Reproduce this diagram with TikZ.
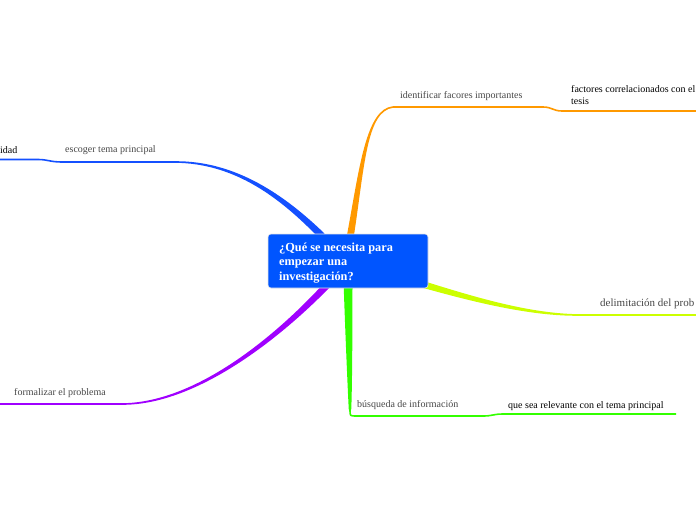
\documentclass[tikz,border=0pt]{standalone}
\usepackage{fontspec}
\setmainfont{Liberation Serif}
\usetikzlibrary{calc}
\definecolor{cblue}{RGB}{20,80,255}
\definecolor{corange}{RGB}{255,153,0}
\definecolor{clime}{RGB}{204,255,0}
\definecolor{cgreen}{RGB}{51,255,0}
\definecolor{cpurple}{RGB}{160,0,255}
\definecolor{cbox}{RGB}{0,85,255}
\definecolor{lblgray}{RGB}{70,70,70}
\tikzset{
  thinline/.style={line width=1.6pt},
  lbl/.style={anchor=west, inner sep=0pt, text=lblgray, font=\fontsize{10}{12}\selectfont},
  sublbl/.style={anchor=west, inner sep=0pt, text=black, font=\fontsize{10}{11.5}\selectfont, align=left},
  rootbox/.style={draw=white!80!gray, line width=0.6pt, fill=cbox, rounded corners=3pt,
    minimum width=160pt, minimum height=54pt, inner sep=0pt}
}
\begin{document}
\begin{tikzpicture}[x=1pt,y=-1pt]
\useasboundingbox (0,0) rectangle (696,520);
\clip (0,0) rectangle (696,520);
% coordinates
\coordinate (bE) at (175,162);
\coordinate (bL) at (0,159.5);
\coordinate (oE) at (393,107);
\coordinate (oR) at (696,111);
\coordinate (gE) at (350,410);
\coordinate (gR) at (676,414);
\coordinate (pE) at (122,404);
\coordinate (pL) at (0,404);
\coordinate (yE) at (580,315);
\coordinate (yR) at (696,315);
% blue branch
\fill[cblue] (324.5,233.5) .. controls (283.8,194.2) and (235,160.8) .. (175,161.2)
  -- (175,162.8) .. controls (235,163.2) and (280.2,197.8) .. (319.5,238.5) -- cycle;
\draw[cblue,thinline] (bE) -- (62,162) .. controls (50,162) and (48,159.5) .. (38,159.5) -- (bL);
% orange branch
\fill[corange] (353.45,238.59) .. controls (364.46,168.42) and (366.13,111.19) .. (393,107.8)
  -- (393,106.2) .. controls (365.87,108.81) and (359.54,167.58) .. (346.55,237.41) -- cycle;
\draw[corange,thinline] (oE) -- (543,107) .. controls (552,107) and (553,111) .. (562,111) -- (oR);
% green branch
\fill[cgreen] (352.5,280) .. controls (352.5,340) and (352,395) .. (351.2,410)
  -- (348.8,410) .. controls (348,395) and (345.5,340) .. (343.5,280) -- cycle;
\draw[cgreen,thinline] (gE) .. controls (350,416) .. (356,416) -- (483,416)
  .. controls (493,416) and (493,414) .. (503,414) -- (gR);
% purple branch
\fill[cpurple] (330.56,286.39) .. controls (286.83,331.71) and (200,405.2) .. (122,404.8)
  -- (122,403.2) .. controls (200,402.8) and (283.17,328.29) .. (325.44,281.61) -- cycle;
\draw[cpurple,thinline] (pE) -- (pL);
% lime branch
\fill[clime] (414,285.35) .. controls (474.28,302.4) and (530,316.2) .. (580,315.8)
  -- (580,314.2) .. controls (530,313.8) and (475.72,297.6) .. (416,278.65) -- cycle;
\draw[clime,thinline] (yE) -- (yR);
% root
\node[rootbox] (root) at (348,261) {};
\node[anchor=north west, inner sep=0pt, text=white, align=left,
  font=\fontsize{12.3}{14.6}\selectfont\bfseries] (roottext) at (279,242.5)
  {¿Qué se necesita para\\empezar una\\investigación?};
% labels
\node[lbl] (l1) at (65,150.5) {escoger tema principal};
\node[sublbl] (s1) at (0,150) {idad};
\node[lbl] (l2) at (400,96.5) {identificar facores importantes};
\node[sublbl, anchor=north west] (s2) at (571,85.5) {factores correlacionados con el\\tesis};
\node[lbl, font=\fontsize{11}{13}\selectfont] (l3) at (600,303.5) {delimitación del prob};
\node[lbl] (l4) at (357,405.5) {búsqueda de información};
\node[sublbl] (s4) at (508,406) {que sea relevante con el tema principal};
\node[lbl] (l5) at (14,393.5) {formalizar el problema};
\end{tikzpicture}
\end{document}
